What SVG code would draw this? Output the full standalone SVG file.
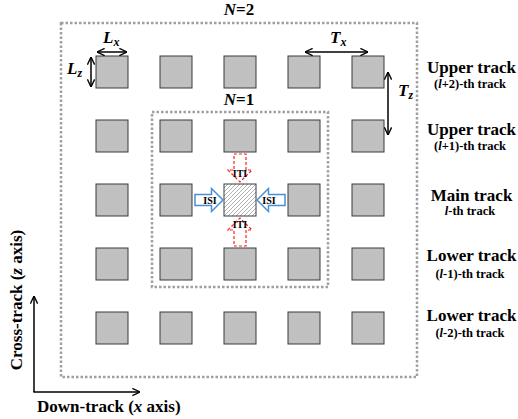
<svg xmlns="http://www.w3.org/2000/svg" width="518" height="419" viewBox="0 0 518 419">
<style>
.sq{fill:#c0c0c0;stroke:#3a3a3a;stroke-width:1}
.dot{fill:none;stroke:#a0a0a0;stroke-width:2.5;stroke-dasharray:2.5 2}
.t{font-family:"Liberation Serif","Times New Roman",serif;font-weight:bold;fill:#000}
.it{font-style:italic}
.ttl{font-size:17px;text-anchor:middle}
.sub{font-size:12.5px;text-anchor:middle}
.dim{fill:none;stroke:#000;stroke-width:1.5}
.iti{fill:#fff;stroke:#ff2020;stroke-width:1.2;stroke-dasharray:3 2}
.isi{fill:#fff;stroke:#4a90d2;stroke-width:1.5}
.lab{font-size:10px;text-anchor:middle}
</style>
<defs>
<marker id="ah" viewBox="0 0 10 10" refX="9.5" refY="5" markerWidth="9" markerHeight="9" markerUnits="userSpaceOnUse" orient="auto-start-reverse">
<path d="M1,1 L9.5,5 L1,9" fill="none" stroke="#000" stroke-width="1.5"/>
</marker>
<pattern id="hatch" patternUnits="userSpaceOnUse" width="4" height="4">
<rect width="4" height="4" fill="#fff"/>
<path d="M-1,1 L1,-1 M0,4 L4,0 M3,5 L5,3" stroke="#b0b0b0" stroke-width="1"/>
</pattern>
</defs>
<rect width="518" height="419" fill="#fff"/>
<g id="boxes">
<rect class="dot" x="61" y="23" width="356" height="354"/>
<rect class="dot" x="152" y="112" width="176" height="175"/>
<text class="t ttl" x="239" y="15"><tspan class="it">N</tspan>=2</text>
<text class="t ttl" x="239" y="105"><tspan class="it">N</tspan>=1</text>
</g>
<g id="cells">
<rect class="sq" x="96" y="56" width="32" height="32"/>
<rect class="sq" x="160" y="56" width="32" height="32"/>
<rect class="sq" x="224" y="56" width="32" height="32"/>
<rect class="sq" x="288" y="56" width="32" height="32"/>
<rect class="sq" x="352" y="56" width="32" height="32"/>
<rect class="sq" x="96" y="120" width="32" height="32"/>
<rect class="sq" x="160" y="120" width="32" height="32"/>
<rect class="sq" x="224" y="120" width="32" height="32"/>
<rect class="sq" x="288" y="120" width="32" height="32"/>
<rect class="sq" x="352" y="120" width="32" height="32"/>
<rect class="sq" x="96" y="184" width="32" height="32"/>
<rect class="sq" x="160" y="184" width="32" height="32"/>
<rect id="main" x="224" y="184" width="32" height="32" fill="url(#hatch)" stroke="#3a3a3a" stroke-width="1"/>
<rect class="sq" x="288" y="184" width="32" height="32"/>
<rect class="sq" x="352" y="184" width="32" height="32"/>
<rect class="sq" x="96" y="248" width="32" height="32"/>
<rect class="sq" x="160" y="248" width="32" height="32"/>
<rect class="sq" x="224" y="248" width="32" height="32"/>
<rect class="sq" x="288" y="248" width="32" height="32"/>
<rect class="sq" x="352" y="248" width="32" height="32"/>
<rect class="sq" x="96" y="312" width="32" height="32"/>
<rect class="sq" x="160" y="312" width="32" height="32"/>
<rect class="sq" x="224" y="312" width="32" height="32"/>
<rect class="sq" x="288" y="312" width="32" height="32"/>
<rect class="sq" x="352" y="312" width="32" height="32"/>
</g>
<g id="connectors">
<line class="dim" x1="97" y1="52" x2="127" y2="52" marker-start="url(#ah)" marker-end="url(#ah)"/>
<line class="dim" x1="91" y1="57" x2="91" y2="87" marker-start="url(#ah)" marker-end="url(#ah)"/>
<line class="dim" x1="305" y1="52" x2="368" y2="52" marker-start="url(#ah)" marker-end="url(#ah)"/>
<line class="dim" x1="388" y1="72" x2="388" y2="135" marker-start="url(#ah)" marker-end="url(#ah)"/>
<line class="dim" x1="34" y1="392" x2="34" y2="296" marker-end="url(#ah)"/>
<line class="dim" x1="33.3" y1="392" x2="140" y2="392" marker-end="url(#ah)"/>
</g>
<g id="dims">
<text class="t it" x="103" y="43" font-size="17">L<tspan font-size="12" dy="3">x</tspan></text>
<text class="t it" x="67" y="74" font-size="17">L<tspan font-size="12" dy="3">z</tspan></text>
<text class="t it" x="330" y="43" font-size="17">T<tspan font-size="12" dy="3">x</tspan></text>
<text class="t it" x="398" y="96" font-size="17">T<tspan font-size="12" dy="3">z</tspan></text>
</g>
<g id="interference">
<polygon class="iti" points="234,154 246,154 246,170 252,170 240,182 228,170 234,170"/>
<text class="t lab" x="240" y="177">ITI</text>
<polygon class="iti" points="234,246 246,246 246,230 252,230 240,218 228,230 234,230"/>
<text class="t lab" x="240" y="228">ITI</text>
<polygon class="isi" points="195,194.5 211.5,194.5 211.5,188.5 223,200 211.5,211.5 211.5,205.5 195,205.5"/>
<text class="t lab" x="210" y="204" font-size="9">ISI</text>
<polygon class="isi" points="285,194.5 268.5,194.5 268.5,188.5 257,200 268.5,211.5 268.5,205.5 285,205.5"/>
<text class="t lab" x="269" y="204" font-size="9">ISI</text>
</g>
<g id="labels">
<text class="t ttl" x="471.5" y="73">Upper track</text>
<text class="t sub" x="470" y="88">(<tspan class="it">l</tspan>+2)-th track</text>
<text class="t ttl" x="471.5" y="135">Upper track</text>
<text class="t sub" x="470" y="150">(<tspan class="it">l</tspan>+1)-th track</text>
<text class="t ttl" x="471.5" y="201">Main track</text>
<text class="t sub" x="470" y="215"><tspan class="it">l</tspan>-th track</text>
<text class="t ttl" x="471.5" y="261">Lower track</text>
<text class="t sub" x="470" y="278">(<tspan class="it">l</tspan>-1)-th track</text>
<text class="t ttl" x="471.5" y="321">Lower track</text>
<text class="t sub" x="470" y="337">(<tspan class="it">l</tspan>-2)-th track</text>
</g>
<g id="axes">
<text class="t" x="37" y="412" font-size="17">Down-track (<tspan class="it">x</tspan> axis)</text>
<text class="t" transform="translate(22,300) rotate(-90)" text-anchor="middle" font-size="17">Cross-track (<tspan class="it">z</tspan> axis)</text>
</g>
</svg>
